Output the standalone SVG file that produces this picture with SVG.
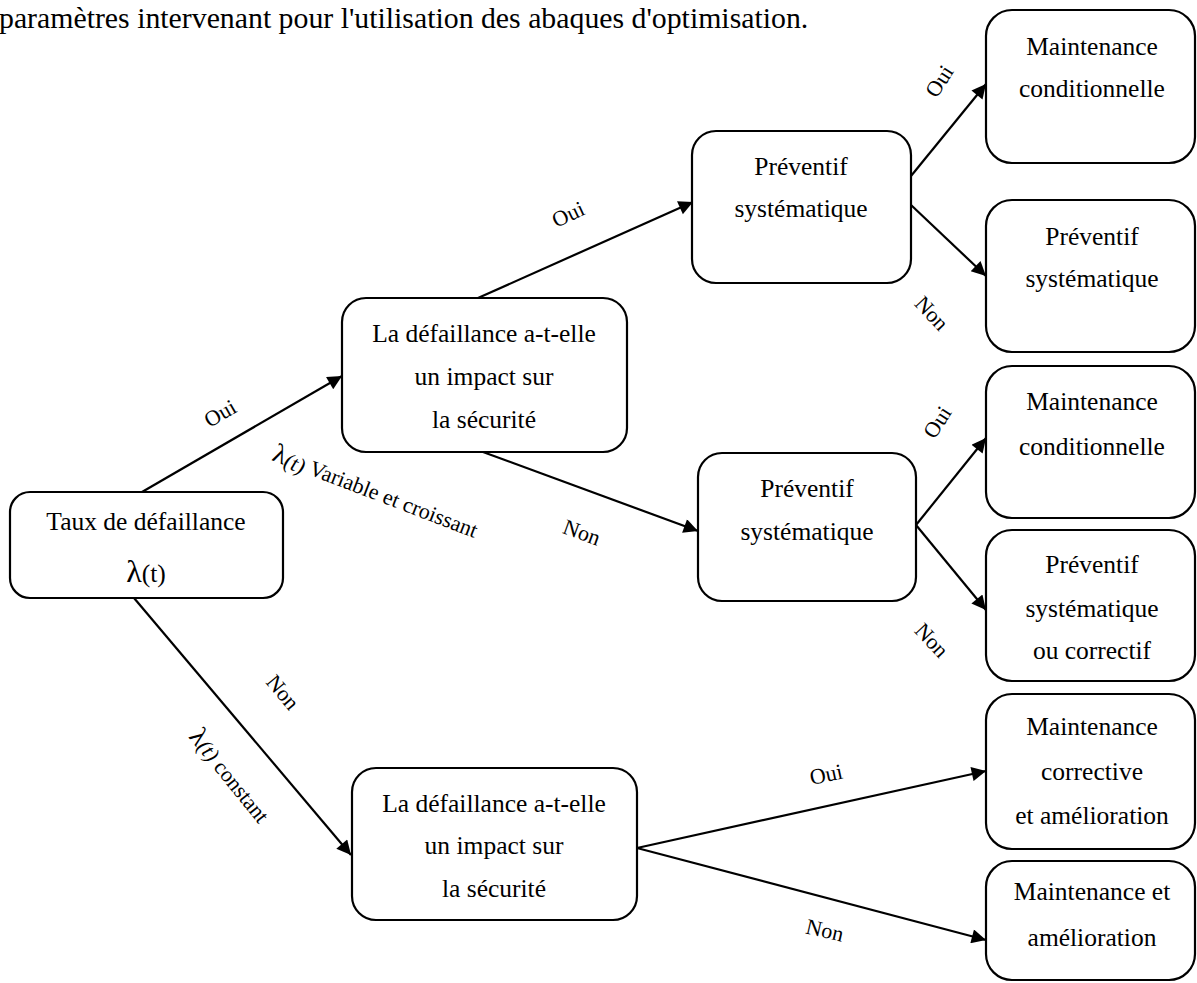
<svg xmlns="http://www.w3.org/2000/svg" width="1197" height="983" viewBox="0 0 1197 983" font-family="'Liberation Serif', 'Times New Roman', serif">
  <style>
    text { font-family: 'Liberation Serif', 'Times New Roman', serif; fill: #000; }
    .box { fill: #fff; stroke: #000; stroke-width: 2.2; }
    .t { font-size: 25.5px; text-anchor: middle; }
    .lbl { font-size: 22px; text-anchor: middle; }
    .edge { stroke: #000; stroke-width: 2.2; fill: none; marker-end: url(#arrow); }
  </style>
  <defs>
    <marker id="arrow" viewBox="0 0 10 10" refX="10" refY="5" markerWidth="8" markerHeight="6.5" markerUnits="strokeWidth" orient="auto">
      <path d="M0,0 L10,5 L0,10 Z" fill="#000"/>
    </marker>
  </defs>

  <rect width="1197" height="983" fill="#fff"/>

  <text x="-1" y="28" style="font-size:29.8px">paramètres intervenant pour l'utilisation des abaques d'optimisation.</text>

  <!-- connectors -->
  <g id="connectors">
    <line class="edge" x1="142" y1="492" x2="342" y2="376"/>
    <line class="edge" x1="134" y1="598" x2="351" y2="855"/>
    <line class="edge" x1="478" y1="298" x2="693" y2="202"/>
    <line class="edge" x1="483" y1="452" x2="698" y2="531"/>
    <line class="edge" x1="911" y1="176" x2="986" y2="84"/>
    <line class="edge" x1="911" y1="205" x2="986" y2="276"/>
    <line class="edge" x1="916" y1="525" x2="986" y2="438"/>
    <line class="edge" x1="916" y1="525" x2="986" y2="610"/>
    <line class="edge" x1="637" y1="848" x2="986" y2="771"/>
    <line class="edge" x1="637" y1="848" x2="986" y2="940"/>
  </g>

  <!-- edge labels -->
  <g id="labels">
    <text class="lbl" dy="0.35em" transform="translate(220,413) rotate(-30)">Oui</text>
    <text transform="translate(271,460) rotate(21)" style="font-size:22px"><tspan style="font-size:27px">λ</tspan><tspan style="font-style:italic" dy="2">(t)</tspan><tspan dy="-2"> Variable et croissant</tspan></text>
    <text class="lbl" dy="0.35em" transform="translate(582,532) rotate(20)">Non</text>
    <text class="lbl" dy="0.35em" transform="translate(568,214) rotate(-25)">Oui</text>
    <text class="lbl" dy="0.35em" transform="translate(939,81) rotate(-57)">Oui</text>
    <text class="lbl" dy="0.35em" transform="translate(932,313) rotate(47)">Non</text>
    <text class="lbl" dy="0.35em" transform="translate(937,422) rotate(-57)">Oui</text>
    <text class="lbl" dy="0.35em" transform="translate(932,640) rotate(47)">Non</text>
    <text class="lbl" dy="0.35em" transform="translate(283,692) rotate(50)">Non</text>
    <text transform="translate(188,737) rotate(51)" style="font-size:22px"><tspan style="font-size:27px">λ</tspan><tspan style="font-style:italic">(t)</tspan><tspan> constant</tspan></text>
    <text class="lbl" dy="0.35em" transform="translate(826,774) rotate(-12)">Oui</text>
    <text class="lbl" dy="0.35em" transform="translate(825,930) rotate(13)">Non</text>
  </g>

  <g id="n-taux">
    <rect class="box" x="10" y="492" width="273" height="106" rx="20"/>
    <text class="t" x="146" y="530">Taux de défaillance</text>
    <text class="t" x="146" y="582"><tspan style="font-size:32px">λ</tspan><tspan>(t)</tspan></text>
  </g>

  <g id="n-impact-1">
    <rect class="box" x="342" y="298" width="285" height="154" rx="24"/>
    <text class="t" x="484" y="342">La défaillance a-t-elle</text>
    <text class="t" x="484" y="385">un impact sur</text>
    <text class="t" x="484" y="428">la sécurité</text>
  </g>

  <g id="n-prev-1">
    <rect class="box" x="692" y="131" width="219" height="152" rx="24"/>
    <text class="t" x="801" y="175">Préventif</text>
    <text class="t" x="801" y="217">systématique</text>
  </g>

  <g id="n-prev-2">
    <rect class="box" x="698" y="453" width="218" height="148" rx="24"/>
    <text class="t" x="807" y="497">Préventif</text>
    <text class="t" x="807" y="540">systématique</text>
  </g>

  <g id="n-impact-2">
    <rect class="box" x="352" y="768" width="285" height="152" rx="24"/>
    <text class="t" x="494" y="812">La défaillance a-t-elle</text>
    <text class="t" x="494" y="854">un impact sur</text>
    <text class="t" x="494" y="897">la sécurité</text>
  </g>

  <g id="n-r1">
    <rect class="box" x="986" y="10" width="209" height="153" rx="26"/>
    <text class="t" x="1092" y="55">Maintenance</text>
    <text class="t" x="1092" y="97">conditionnelle</text>
  </g>

  <g id="n-r2">
    <rect class="box" x="986" y="200" width="209" height="152" rx="26"/>
    <text class="t" x="1092" y="245">Préventif</text>
    <text class="t" x="1092" y="287">systématique</text>
  </g>

  <g id="n-r3">
    <rect class="box" x="986" y="366" width="209" height="152" rx="26"/>
    <text class="t" x="1092" y="410">Maintenance</text>
    <text class="t" x="1092" y="455">conditionnelle</text>
  </g>

  <g id="n-r4">
    <rect class="box" x="986" y="530" width="209" height="151" rx="26"/>
    <text class="t" x="1092" y="573">Préventif</text>
    <text class="t" x="1092" y="617">systématique</text>
    <text class="t" x="1092" y="659">ou correctif</text>
  </g>

  <g id="n-r5">
    <rect class="box" x="986" y="694" width="209" height="155" rx="26"/>
    <text class="t" x="1092" y="735">Maintenance</text>
    <text class="t" x="1092" y="780">corrective</text>
    <text class="t" x="1092" y="824">et amélioration</text>
  </g>

  <g id="n-r6">
    <rect class="box" x="986" y="861" width="209" height="119" rx="26"/>
    <text class="t" x="1092" y="900">Maintenance et</text>
    <text class="t" x="1092" y="946">amélioration</text>
  </g>
</svg>
